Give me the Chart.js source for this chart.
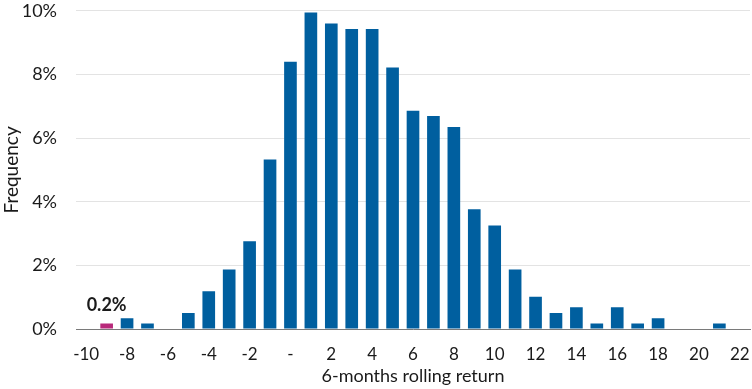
<!DOCTYPE html>
<html>
<head>
<meta charset="utf-8">
<script src="https://cdn.jsdelivr.net/npm/chart.js@4/dist/chart.umd.min.js"></script>
<style>
  html, body { margin: 0; padding: 0; background: #fff; }
  #wrap { width: 752px; height: 389px; }
</style>
</head>
<body>
<div id="wrap"><canvas id="histChart"></canvas></div>
<script>
// return buckets (%), one per bar
const categories = [-10, -9, -8, -7, -6, -5, -4, -3, -2, -1, 0, 1, 2, 3, 4, 5, 6, 7, 8, 9, 10, 11, 12, 13, 14, 15, 16, 17, 18, 19, 20, 21, 22];
const frequency = [0, 0.17, 0.34, 0.17, 0, 0.5, 1.19, 1.87, 2.76, 5.33, 8.4, 9.95, 9.6, 9.43, 9.43, 8.22, 6.86, 6.69, 6.35, 3.76, 3.25, 1.87, 1.01, 0.5, 0.68, 0.17, 0.68, 0.17, 0.34, 0, 0, 0.17, 0];
const tickLabels = ["-10", "", "-8", "", "-6", "", "-4", "", "-2", "", "-", "", "2", "", "4", "", "6", "", "8", "", "10", "", "12", "", "14", "", "16", "", "18", "", "20", "", "22"];
const yTicks = [0, 2, 4, 6, 8, 10];
const highlightIndex = 1;
const highlightLabel = "0.2%";

const blue = "#005f9f";
const magenta = "#b8297a";
const fontFamily = "Lato, 'Noto Sans', sans-serif";

const barColors = categories.map((c, i) => i === highlightIndex ? magenta : blue);

// small label above the highlighted bar
const highlightPlugin = {
  id: "highlightLabel",
  afterDatasetsDraw(chart) {
    const bar = chart.getDatasetMeta(0).data[highlightIndex];
    const ctx = chart.ctx;
    ctx.save();
    ctx.font = "bold 18px " + fontFamily;
    ctx.fillStyle = "#1a1a1a";
    ctx.textAlign = "center";
    ctx.textBaseline = "alphabetic";
    ctx.fillText(highlightLabel, bar.x, bar.y - 13);
    ctx.restore();
  }
};

new Chart(document.getElementById("histChart"), {
  type: "bar",
  data: {
    labels: categories,
    datasets: [{
      data: frequency,
      backgroundColor: barColors,
      categoryPercentage: 1,
      barPercentage: 0.62
    }]
  },
  options: {
    responsive: true,
    maintainAspectRatio: false,
    animation: false,
    layout: { padding: { top: 0, right: 2, left: 0, bottom: 0 } },
    plugins: {
      legend: { display: false },
      tooltip: { enabled: false }
    },
    scales: {
      x: {
        // tick marks hidden, tickLength only pushes the labels down
        grid: { display: false, drawTicks: true, tickLength: 15 },
        border: { color: "#7a7a7a", width: 1 },
        afterFit: (axis) => { axis.height = 60; },
        ticks: {
          autoSkip: false,
          maxRotation: 0,
          color: "#1a1a1a",
          font: { family: fontFamily, size: 17 },
          padding: 0,
          callback: (val, i) => tickLabels[i]
        },
        title: {
          display: true,
          text: "6-months rolling return",
          color: "#1a1a1a",
          font: { family: fontFamily, size: 18 },
          padding: { top: 0, bottom: 2 }
        }
      },
      y: {
        min: 0,
        max: 10,
        afterBuildTicks: (axis) => { axis.ticks = yTicks.map(v => ({ value: v })); },
        afterFit: (axis) => { axis.width = 76; },
        grid: { color: "#e3e3e3", drawTicks: true, tickLength: 19, tickColor: "rgba(0,0,0,0)" },
        border: { display: false },
        ticks: {
          color: "#1a1a1a",
          font: { family: fontFamily, size: 18 },
          padding: 0,
          callback: (v) => v + "%"
        },
        title: {
          display: true,
          text: "Frequency",
          color: "#1a1a1a",
          font: { family: fontFamily, size: 19 },
          padding: { top: 0, bottom: 0 }
        }
      }
    }
  },
  plugins: [highlightPlugin]
});
</script>
</body>
</html>
